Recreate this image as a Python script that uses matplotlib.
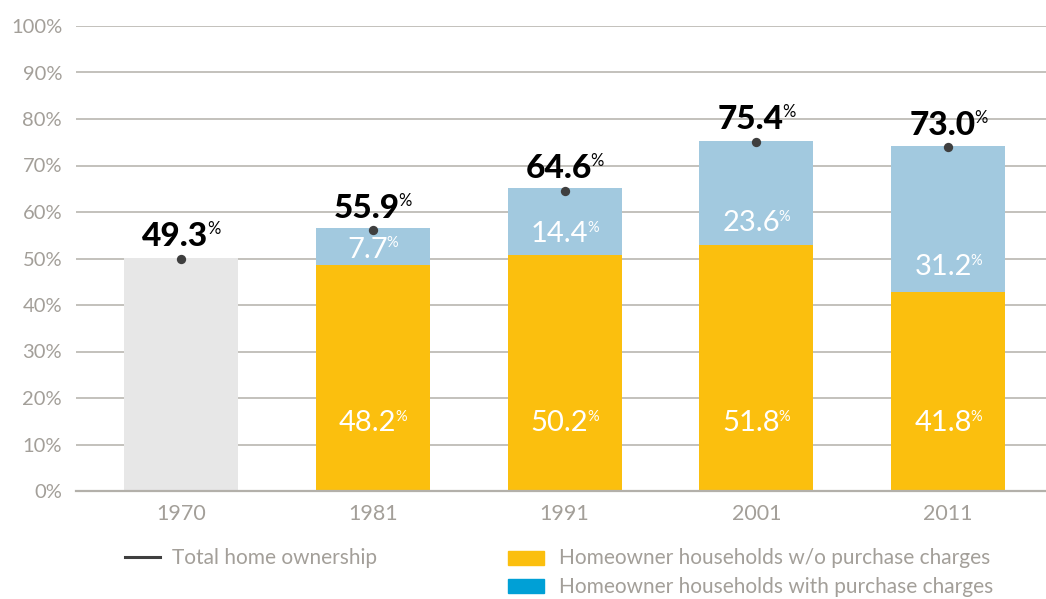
import numpy as np
import matplotlib
matplotlib.use("Agg")
import matplotlib.pyplot as plt
from matplotlib.lines import Line2D
from matplotlib.patches import Rectangle

# ---------------- data ----------------
years = ["1970", "1981", "1991", "2001", "2011"]
total_1970_bar = 50.2                          # grey bar (1970 only)
without_charges = [0.0, 48.5, 50.7, 52.8, 42.9]  # yellow segment
with_charges = [0.0, 8.1, 14.5, 22.5, 31.3]      # blue segment
ownership_dots = [50.0, 56.1, 64.6, 75.1, 73.9]  # total home ownership markers
total_labels = ["49.3", "55.9", "64.6", "75.4", "73.0"]
without_labels = [None, "48.2", "50.2", "51.8", "41.8"]
with_labels = [None, "7.7", "14.4", "23.6", "31.2"]
yticks = [0, 10, 20, 30, 40, 50, 60, 70, 80, 90, 100]

legend_line = "Total home ownership"
legend_yellow = "Homeowner households w/o purchase charges"
legend_blue = "Homeowner households with purchase charges"

# ---------------- layout / style ----------------
YELLOW = "#FBBF0E"
BLUE_BAR = "#A2C9DF"
BLUE_LEG = "#00A0D6"
GREY_BAR = "#E7E7E7"
GRID = "#B3B0AA"
TXT = "#A39F99"
DOT = "#3F3F3F"
FONT = "Lato"

yellow_label_y = [None, 15.1, 15.1, 15.1, 15.1]
blue_label_y = [None, 52.4, 55.7, 58.1, 48.6]

DPI = 100
fig = plt.figure(figsize=(10.46, 5.99), dpi=DPI)
ax = fig.add_axes([76 / 1046, (599 - 491) / 599, 1 - 76 / 1046, (491 - 26) / 599])

x = np.arange(len(years))
width = 0.595

ax.bar(x[0], total_1970_bar, width=width, color=GREY_BAR, zorder=2)
ax.bar(x[1:], without_charges[1:], width=width, color=YELLOW, zorder=2)
ax.bar(x[1:], with_charges[1:], width=width, bottom=without_charges[1:],
       color=BLUE_BAR, zorder=2)
ax.scatter(x, ownership_dots, s=45, color=DOT, zorder=4, linewidths=0)

ax.set_xlim(-0.548, 4.51)
ax.set_ylim(0, 100)
ax.set_yticks(yticks)
ax.set_yticklabels([f"{v}%" for v in yticks])
ax.set_xticks(x)
ax.set_xticklabels(years)
ax.tick_params(axis="y", length=0, pad=10, labelsize=14.5, labelcolor=TXT)
ax.tick_params(axis="x", length=0, pad=9, labelsize=15.5, labelcolor=TXT)
for lab in ax.get_xticklabels() + ax.get_yticklabels():
    lab.set_fontfamily(FONT)
    lab.set_fontweight("normal")
for s in ["top", "right", "left"]:
    ax.spines[s].set_visible(False)
ax.spines["bottom"].set_color(GRID)
ax.spines["bottom"].set_linewidth(1.6)
ax.spines["bottom"].set_zorder(3)
ax.grid(axis="y", color=GRID, linewidth=1.1, zorder=0)
ax.grid(axis="x", visible=False)
ax.set_axisbelow(True)

# ---------------- labels with superscript % ----------------
CAP = 0.7165
pairs = []


def sup_label(xv, yv, num, fs, pfs, color, weight, dy):
    t = ax.annotate(num, (xv, yv), xytext=(0, dy), textcoords="offset points",
                    ha="center", va="baseline", fontsize=fs, color=color,
                    fontfamily=FONT, fontweight=weight, zorder=5)
    p = ax.annotate("%", (xv, yv), xytext=(0, dy + CAP * (fs - pfs)),
                    textcoords="offset points", ha="left", va="baseline",
                    fontsize=pfs, color=color, fontfamily=FONT,
                    fontweight="normal", zorder=5)
    pairs.append((t, p, dy, dy + CAP * (fs - pfs)))


for i in range(len(years)):
    sup_label(x[i], ownership_dots[i], total_labels[i], 24, 12, "black", "black", 9)
    if without_labels[i]:
        fs = 21
        sup_label(x[i], yellow_label_y[i], without_labels[i], fs, 10.5, "white",
                  "normal", -0.358 * fs)
    if with_labels[i]:
        fs = 21
        sup_label(x[i], blue_label_y[i], with_labels[i], fs, 10.5, "white",
                  "normal", -0.358 * fs)

fig.canvas.draw()
r = fig.canvas.get_renderer()
for t, p, dyt, dyp in pairs:
    wn = t.get_window_extent(r).width * 72 / DPI
    wp = p.get_window_extent(r).width * 72 / DPI
    gap = -1.0
    tot = wn + gap + wp
    t.xyann = (-tot / 2 + wn / 2, dyt)
    p.xyann = (-tot / 2 + wn + gap, dyp)

# ---------------- legend ----------------
def fx(px):
    return px / 1046


def fy(py):
    return (599 - py) / 599


fig.add_artist(Line2D([fx(125), fx(160)], [fy(557), fy(557)], color=DOT,
                      linewidth=2.2, transform=fig.transFigure))
fig.text(fx(172), fy(564), legend_line, fontsize=15, color=TXT,
         fontfamily=FONT, fontweight="normal", va="baseline", ha="left")
fig.add_artist(Rectangle((fx(508), fy(565)), fx(544) - fx(508), fy(551) - fy(565),
                         color=YELLOW, transform=fig.transFigure))
fig.text(fx(559), fy(564), legend_yellow, fontsize=15, color=TXT,
         fontfamily=FONT, fontweight="normal", va="baseline", ha="left")
fig.add_artist(Rectangle((fx(508), fy(593)), fx(544) - fx(508), fy(579) - fy(593),
                         color=BLUE_LEG, transform=fig.transFigure))
fig.text(fx(559), fy(593), legend_blue, fontsize=15, color=TXT,
         fontfamily=FONT, fontweight="normal", va="baseline", ha="left")

fig.savefig("out.png", dpi=DPI)
